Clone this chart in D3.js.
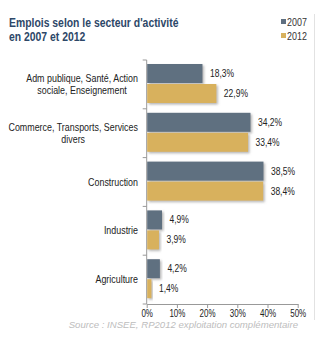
<!DOCTYPE html>
<html>
<head>
<meta charset="utf-8">
<script src="https://cdn.jsdelivr.net/npm/d3@7"></script>
<style>
  body { margin: 0; background: #fff; }
  svg { display: block; }
</style>
</head>
<body>
<div id="chart"></div>
<script>
var width = 324,
    height = 341;

// secteurs, du haut vers le bas
var secteurs = [
  ["Adm publique, Santé, Action", "sociale, Enseignement"],
  ["Commerce, Transports, Services", "divers"],
  ["Construction"],
  ["Industrie"],
  ["Agriculture"]
];
var annees = ["2007", "2012"];
var parts2007 = [18.3, 34.2, 38.5, 4.9, 4.2];
var parts2012 = [22.9, 33.4, 38.4, 3.9, 1.4];
var ticksX = [0, 10, 20, 30, 40, 50];

var couleurs = { "2007": "#5f6f80", "2012": "#d8b15d" };
var police = "'Liberation Sans', Arial, sans-serif";

// texte resserré horizontalement (police étroite)
function etroit(x, y, k) {
  return "translate(" + x + "," + y + ") scale(" + k + ",1)";
}

var svg = d3.select("#chart")
    .append("svg")
    .attr("width", width)
    .attr("height", height);

var defs = svg.append("defs");
var ombre = defs.append("filter")
    .attr("id", "ombre")
    .attr("x", "-10%").attr("y", "-10%")
    .attr("width", "130%").attr("height", "140%");
ombre.append("feDropShadow")
    .attr("dx", 1.5).attr("dy", 1.5)
    .attr("stdDeviation", 0.8)
    .attr("flood-color", "#777")
    .attr("flood-opacity", 0.55);

// cadre léger à droite
svg.append("line")
    .attr("x1", 314.5).attr("x2", 314.5)
    .attr("y1", 14).attr("y2", 320)
    .attr("stroke", "#e2e2e2");

// titre
["Emplois selon le secteur d'activité", "en 2007 et 2012"].forEach(function(l, i) {
  svg.append("text")
      .attr("transform", etroit(9, 27 + i * 14, 0.8))
      .attr("font-family", police)
      .attr("font-weight", "bold")
      .attr("font-size", 13)
      .attr("fill", "#2d4768")
      .text(l);
});

// légende
var legende = svg.selectAll(".legende")
    .data(annees)
    .enter().append("g")
    .attr("class", "legende")
    .attr("transform", function(d, i) { return "translate(281," + (22 + i * 14) + ")"; });

legende.append("rect")
    .attr("x", 0).attr("y", -3)
    .attr("width", 5).attr("height", 5)
    .attr("fill", function(d) { return couleurs[d]; });

legende.append("text")
    .attr("transform", etroit(6, 0, 0.85))
    .attr("dy", ".35em")
    .attr("font-family", police)
    .attr("font-size", 10.5)
    .attr("fill", "#333")
    .text(function(d) { return d; });

// échelles
var x = d3.scaleLinear().domain([0, 50]).range([146.7, 297.7]);
var y = d3.scaleBand().domain(d3.range(secteurs.length)).range([60, 304]).padding(0);
var ySerie = d3.scaleBand().domain(annees).range([4, 43]).paddingInner(0.05);

var g = svg.append("g");

// axe des catégories
g.append("line")
    .attr("x1", x(0)).attr("x2", x(0))
    .attr("y1", y.range()[0]).attr("y2", y.range()[1])
    .attr("stroke", "#999");

g.selectAll(".tick-y")
    .data(d3.range(secteurs.length + 1))
    .enter().append("line")
    .attr("class", "tick-y")
    .attr("x1", x(0) - 4).attr("x2", x(0))
    .attr("y1", function(i) { return 60 + i * y.step(); })
    .attr("y2", function(i) { return 60 + i * y.step(); })
    .attr("stroke", "#999");

// axe des pourcentages
var axeX = g.append("g")
    .attr("transform", "translate(0,304)")
    .call(d3.axisBottom(x).tickValues(ticksX).tickSize(4).tickSizeOuter(0)
      .tickFormat(function(d) { return d + "%"; }));
axeX.select(".domain").attr("stroke", "#999");
axeX.selectAll(".tick line").attr("stroke", "#999");
axeX.selectAll(".tick text")
    .attr("y", 0)
    .attr("dy", 0)
    .attr("transform", etroit(0, 13, 0.8))
    .attr("font-family", police)
    .attr("font-size", 10)
    .attr("fill", "#222");

// libellés des secteurs : lignes centrées entre elles, bloc aligné à droite
var kLib = 0.89;
var libelles = g.selectAll(".libelle")
    .data(secteurs)
    .enter().append("g")
    .attr("class", "libelle");

libelles.each(function(lignes, i) {
  var cy = y(i) + y.bandwidth() / 2;
  var t = d3.select(this);
  var textes = lignes.map(function(l, j) {
    return t.append("text")
      .attr("dy", ".35em")
      .attr("text-anchor", "middle")
      .attr("font-family", police)
      .attr("font-size", 10)
      .attr("fill", "#222")
      .text(l);
  });
  var large = d3.max(textes, function(s) { return s.node().getComputedTextLength(); }) * kLib;
  textes.forEach(function(s, j) {
    s.attr("transform", etroit(138 - large / 2, cy + (j - (lignes.length - 1) / 2) * 12, kLib));
  });
});

// barres
var series = [
  { annee: "2007", valeurs: parts2007 },
  { annee: "2012", valeurs: parts2012 }
];

series.forEach(function(s) {
  var barres = g.selectAll(".barre-" + s.annee)
      .data(s.valeurs)
      .enter().append("g")
      .attr("class", "barre-" + s.annee);

  barres.append("rect")
      .attr("x", x(0) + 0.5)
      .attr("y", function(d, i) { return y(i) + ySerie(s.annee); })
      .attr("width", function(d) { return x(d) - x(0); })
      .attr("height", ySerie.bandwidth())
      .attr("fill", couleurs[s.annee])
      .attr("filter", "url(#ombre)");

  barres.append("text")
      .attr("transform", function(d, i) {
        return etroit(x(d) + 8, y(i) + ySerie(s.annee) + ySerie.bandwidth() / 2, 0.85);
      })
      .attr("dy", ".35em")
      .attr("font-family", police)
      .attr("font-size", 10)
      .attr("fill", "#222")
      .text(function(d) { return d.toFixed(1).replace(".", ",") + "%"; });
});

// source
svg.append("text")
    .attr("x", 298)
    .attr("y", 328)
    .attr("text-anchor", "end")
    .attr("font-family", police)
    .attr("font-style", "italic")
    .attr("font-size", 9.6)
    .attr("fill", "#bdbdbd")
    .text("Source : INSEE, RP2012 exploitation complémentaire");
</script>
</body>
</html>
